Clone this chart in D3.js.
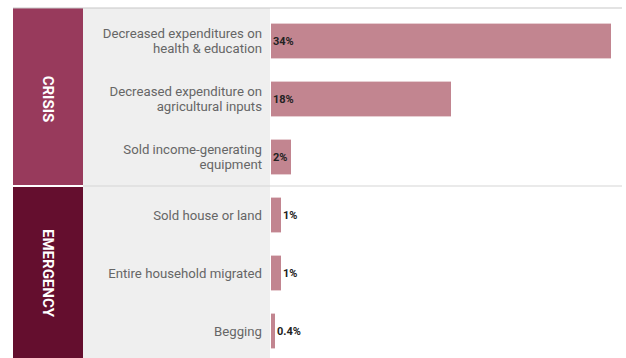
<!DOCTYPE html>
<meta charset="utf-8">
<script src="https://d3js.org/d3.v7.min.js"></script>
<style>
  body { margin: 0; background: #fff; }
  svg { font-family: Roboto, "Noto Sans", sans-serif; }
</style>
<svg id="chart" width="626" height="358"></svg>
<script>

// data
var categories = [
  "Decreased expenditures on|health & education",
  "Decreased expenditure on|agricultural inputs",
  "Sold income-generating|equipment",
  "Sold house or land",
  "Entire household migrated",
  "Begging"
];
var values = [34, 18, 2, 1, 1, 0.4];
var valueLabels = ["34%", "18%", "2%", "1%", "1%", "0.4%"];
var groups = ["CRISIS", "EMERGENCY"];
var groupColors = ["#983a5c", "#640e2e"];
var groupOf = [0, 0, 0, 1, 1, 1];

var svg = d3.select("#chart");

var x = d3.scaleLinear().domain([0, 34]).range([271, 611]);
var y = d3.scaleBand().domain(d3.range(categories.length))
  .range([12, 360]).paddingInner(0.4).paddingOuter(0.2);

// label panel
svg.append("rect").attr("x", 83).attr("y", 8).attr("width", 187).attr("height", 360)
  .attr("fill", "#efefef");

// group bands
groups.forEach(function(g, gi) {
  var idx = d3.range(categories.length).filter(function(i) { return groupOf[i] === gi; });
  var y0 = gi === 0 ? 8 : y(idx[0]) - y.step() * y.paddingInner() / 2 + 1;
  var y1 = y(idx[idx.length - 1]) + y.bandwidth() + y.step() * y.paddingInner() / 2 - 1;
  if (gi === groups.length - 1) y1 = 370;
  svg.append("rect").attr("x", 13).attr("y", y0).attr("width", 70).attr("height", y1 - y0)
    .attr("fill", groupColors[gi]);
  var cy = (y(idx[0]) + y(idx[idx.length - 1]) + y.bandwidth()) / 2;
  svg.append("text")
    .attr("transform", "translate(43," + cy + ") rotate(90)")
    .attr("text-anchor", "middle")
    .attr("fill", "#fff")
    .attr("font-weight", "bold")
    .attr("font-size", 15)
    .text(g);
});

// lines
svg.append("line").attr("x1", 13).attr("x2", 622).attr("y1", 8).attr("y2", 8)
  .attr("stroke", "#c8c8c8").attr("stroke-width", 1.2);
var sepY = y(3) - y.step() * y.paddingInner() / 2;
svg.append("line").attr("x1", 83).attr("x2", 622).attr("y1", sepY).attr("y2", sepY)
  .attr("stroke", "#d6d6d6").attr("stroke-width", 1.2);

// category labels
var lab = svg.append("g").selectAll("text").data(categories).enter().append("text")
  .attr("text-anchor", "end")
  .attr("fill", "#666")
  .attr("font-size", 13.2);
lab.each(function(d, i) {
  var lines = d.split("|");
  var cy = y(i) + y.bandwidth() / 2;
  var t = d3.select(this);
  lines.forEach(function(l, k) {
    t.append("tspan").attr("x", 262)
      .attr("y", cy + (k - (lines.length - 1) / 2) * 15.5)
      .attr("dy", "0.35em")
      .text(l);
  });
});

// bars
svg.append("g").selectAll("rect").data(values).enter().append("rect")
  .attr("x", x(0))
  .attr("y", function(d, i) { return y(i); })
  .attr("width", function(d) { return x(d) - x(0); })
  .attr("height", y.bandwidth())
  .attr("fill", "#c28590");

// value labels
svg.append("g").selectAll("text").data(values).enter().append("text")
  .attr("x", function(d) { return (x(d) - x(0)) > 16 ? x(0) + 2 : x(d) + 2; })
  .attr("y", function(d, i) { return y(i) + y.bandwidth() / 2; })
  .attr("dy", "0.35em")
  .attr("font-size", 11)
  .attr("font-weight", "bold")
  .attr("fill", "#222")
  .text(function(d, i) { return valueLabels[i]; });

</script>
